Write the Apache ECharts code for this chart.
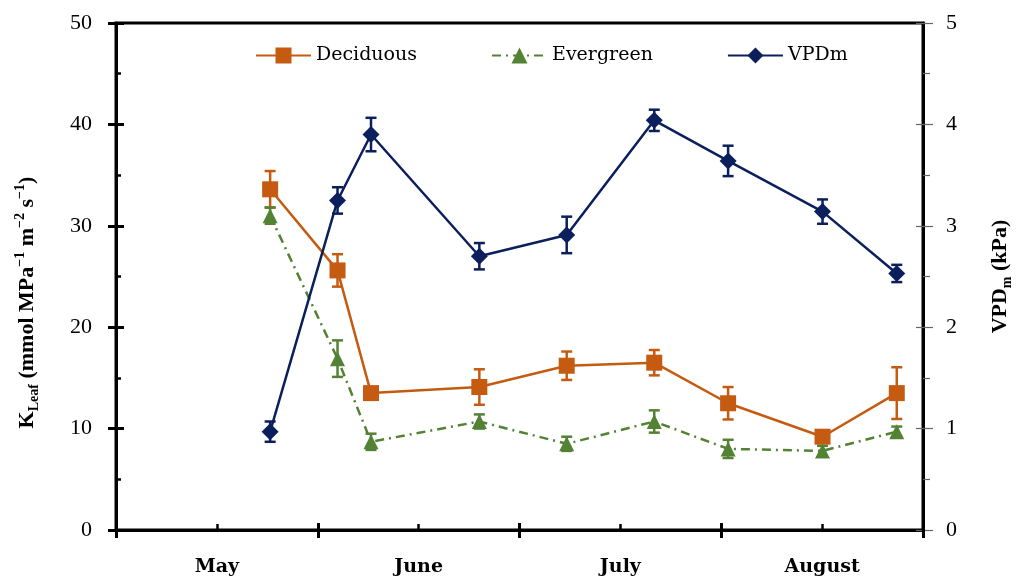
<!DOCTYPE html>
<html>
<head>
<meta charset="utf-8">
<script src="https://cdn.jsdelivr.net/npm/echarts@6/dist/echarts.min.js"></script>
<style>html,body{margin:0;padding:0;background:#fff}#c{width:1018px;height:583px}</style>
</head>
<body>
<div id="c"></div>
<script>
// ---- data (x = position in months from 1 May) ----
const months = ['May', 'June', 'July', 'August'];
const dates = [0.764, 1.098, 1.264, 1.801, 2.234, 2.668, 3.034, 3.502, 3.870];
const deciduous = [33.6, 25.6, 13.5, 14.1, 16.2, 16.5, 12.5, 9.2, 13.5];
const deciduousErr = [1.8, 1.6, 0.5, 1.75, 1.4, 1.25, 1.6, 0.5, 2.55];
const evergreen = [31.0, 16.9, 8.7, 10.7, 8.5, 10.7, 8.0, 7.8, 9.7];
const evergreenErr = [0.8, 1.8, 0.8, 0.7, 0.7, 1.1, 0.9, 0.5, 0.5];
const vpd = [0.97, 3.25, 3.90, 2.70, 2.91, 4.04, 3.64, 3.14, 2.53];
const vpdErr = [0.10, 0.13, 0.165, 0.13, 0.18, 0.105, 0.15, 0.12, 0.085];
const leftTicks = [0, 10, 20, 30, 40, 50];
const rightTicks = [0, 1, 2, 3, 4, 5];

const C_DEC = '#C55A11', C_EVG = '#548235', C_VPD = '#0A1F5C';
const TICKFONT = 'Liberation Serif';
const SERIF = 'DejaVu Serif';

const pts = (ys) => dates.map((x, i) => [x, ys[i]]);
const errs = (ys, es) => dates.map((x, i) => [x, ys[i] - es[i], ys[i] + es[i]]);

function errBar(color) {
  return function (params, api) {
    const x = api.value(0);
    const lo = api.coord([x, api.value(1)]);
    const hi = api.coord([x, api.value(2)]);
    const w = 5.5;
    const st = { stroke: color, lineWidth: 2.5 };
    return {
      type: 'group',
      children: [
        { type: 'line', shape: { x1: lo[0], y1: lo[1], x2: hi[0], y2: hi[1] }, style: st },
        { type: 'line', shape: { x1: lo[0] - w, y1: lo[1], x2: lo[0] + w, y2: lo[1] }, style: st },
        { type: 'line', shape: { x1: hi[0] - w, y1: hi[1], x2: hi[0] + w, y2: hi[1] }, style: st }
      ]
    };
  };
}

const richT = {
  sub: { fontFamily: TICKFONT, fontSize: 14, fontWeight: 'bold', color: '#000', verticalAlign: 'bottom', lineHeight: 13 },
  sup: { fontFamily: TICKFONT, fontSize: 14, fontWeight: 'bold', color: '#000', verticalAlign: 'top', lineHeight: 14 }
};

const chart = echarts.init(document.getElementById('c'), null, { renderer: 'canvas' });
chart.setOption({
  animation: false,
  backgroundColor: '#fff',
  grid: { left: 116, right: 95, top: 23, bottom: 53, show: true, borderColor: '#000', borderWidth: 3, backgroundColor: 'transparent', outerBoundsMode: 'none', containLabel: false },
  legend: {
    data: ['Deciduous', 'Evergreen', 'VPDm'],
    left: 250, top: 41,
    itemWidth: 55, itemHeight: 20, itemGap: 74,
    textStyle: { fontFamily: SERIF, fontSize: 19, color: '#000' }
  },
  xAxis: [
    {
      type: 'value', min: 0, max: 4, interval: 1, position: 'bottom',
      axisLine: { show: true, lineStyle: { color: '#000', width: 3 } },
      axisTick: { show: true, inside: true, length: 7, lineStyle: { color: '#000', width: 3 } },
      minorTick: { show: true, splitNumber: 2, length: 6, lineStyle: { color: '#000', width: 2.5 } },
      axisLabel: { show: false }, splitLine: { show: false }, minorSplitLine: { show: false }
    },
    {
      type: 'category', data: months, position: 'bottom', boundaryGap: true,
      axisLine: { show: false },
      axisTick: { show: true, length: 8, lineStyle: { color: '#000', width: 3 } },
      axisLabel: { fontFamily: SERIF, fontWeight: 'bold', fontSize: 19, color: '#000', margin: 28 },
      splitLine: { show: false }
    }
  ],
  yAxis: [
    {
      type: 'value', min: 0, max: 50, interval: 10, position: 'left',
      axisLine: { show: true, lineStyle: { color: '#000', width: 3 } },
      axisTick: { show: true, inside: true, length: 8, lineStyle: { color: '#000', width: 3 } },
      minorTick: { show: true, splitNumber: 2, length: 5, lineStyle: { color: '#000', width: 2.5 } },
      axisLabel: { fontFamily: TICKFONT, fontSize: 22, color: '#000', margin: 24 },
      splitLine: { show: false },
      name: 'K{sub|Leaf} (mmol MPa{sup|−1} m{sup|−2} s{sup|−1})',
      nameLocation: 'middle', nameRotate: 90, nameGap: 75,
      nameTextStyle: {
        fontFamily: TICKFONT, fontSize: 22, fontWeight: 'bold', color: '#000', lineHeight: 28,
        padding: [0, 52, 0, 0],
        rich: richT
      }
    },
    {
      type: 'value', min: 0, max: 5, interval: 1, position: 'right',
      axisLine: { show: true, lineStyle: { color: '#000', width: 3 } },
      axisTick: { show: true, inside: false, length: 10, lineStyle: { color: '#666', width: 1.2 } },
      minorTick: { show: true, splitNumber: 2, length: 7, lineStyle: { color: '#666', width: 1.2 } },
      axisLabel: { fontFamily: TICKFONT, fontSize: 22, color: '#000', margin: 23 },
      splitLine: { show: false },
      name: 'VPD{sub|m} (kPa)',
      nameLocation: 'middle', nameRotate: 90, nameGap: 63,
      nameTextStyle: {
        fontFamily: TICKFONT, fontSize: 22, fontWeight: 'bold', color: '#000', lineHeight: 28,
        rich: richT
      }
    },
    {
      type: 'value', min: 0, max: 50, interval: 10, position: 'left',
      axisLine: { show: false },
      axisTick: { show: true, inside: false, length: 8, lineStyle: { color: '#000', width: 3 } },
      axisLabel: { show: false }, splitLine: { show: false }
    },
    {
      type: 'value', min: 0, max: 5, interval: 1, position: 'right',
      axisLine: { show: false },
      axisTick: { show: true, inside: true, length: 7, lineStyle: { color: '#666', width: 1.2 } },
      axisLabel: { show: false }, splitLine: { show: false }
    }
  ],
  series: [
    { type: 'custom', xAxisIndex: 0, yAxisIndex: 0, renderItem: errBar(C_DEC), data: errs(deciduous, deciduousErr), z: 2, silent: true },
    { type: 'custom', xAxisIndex: 0, yAxisIndex: 0, renderItem: errBar(C_EVG), data: errs(evergreen, evergreenErr), z: 2, silent: true },
    { type: 'custom', xAxisIndex: 0, yAxisIndex: 1, renderItem: errBar(C_VPD), data: errs(vpd, vpdErr), z: 2, silent: true },
    {
      name: 'Deciduous', type: 'line', xAxisIndex: 0, yAxisIndex: 0, data: pts(deciduous),
      symbol: 'rect', symbolSize: 16, z: 3,
      lineStyle: { color: C_DEC, width: 2.5 }, itemStyle: { color: C_DEC }
    },
    {
      name: 'Evergreen', type: 'line', xAxisIndex: 0, yAxisIndex: 0, data: pts(evergreen),
      symbol: 'triangle', symbolSize: 15, z: 3,
      lineStyle: { color: C_EVG, width: 2.5, type: [9, 5, 2, 5] }, itemStyle: { color: C_EVG }
    },
    {
      name: 'VPDm', type: 'line', xAxisIndex: 0, yAxisIndex: 1, data: pts(vpd),
      symbol: 'diamond', symbolSize: 17, z: 3,
      lineStyle: { color: C_VPD, width: 2.5 }, itemStyle: { color: C_VPD }
    }
  ]
});
</script>
</body>
</html>
